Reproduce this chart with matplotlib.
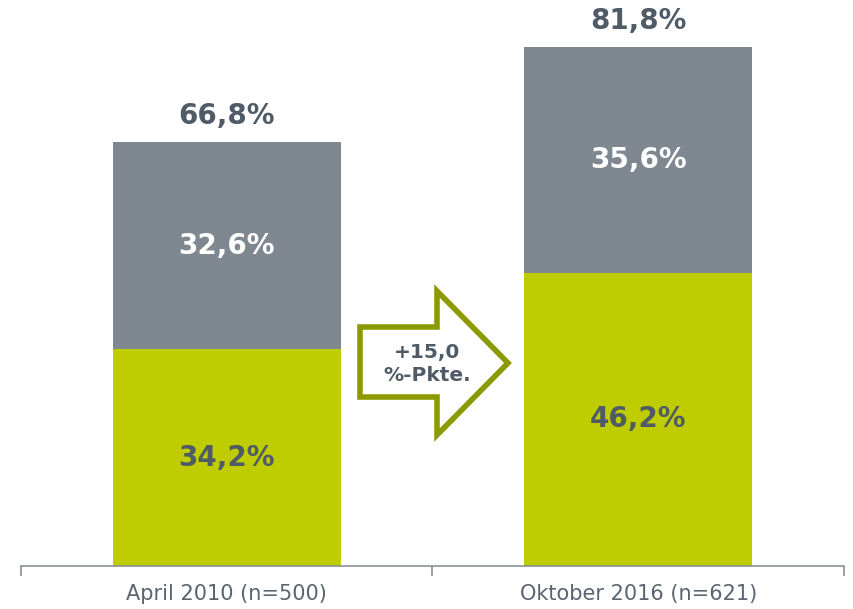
import matplotlib
matplotlib.use("Agg")
import matplotlib.pyplot as plt
from matplotlib.patches import Polygon

categories = ["April 2010 (n=500)", "Oktober 2016 (n=621)"]
bottom_vals = [34.2, 46.2]
top_vals = [32.6, 35.6]
totals = [66.8, 81.8]
bottom_labels = ["34,2%", "46,2%"]
top_labels = ["32,6%", "35,6%"]
total_labels = ["66,8%", "81,8%"]
arrow_text = "+15,0\n%-Pkte."

GREEN = "#BFCC00"
GREY = "#7F8790"
DARK = "#4F5B66"
AXIS = "#8A9096"
OLIVE = "#8C9A00"

W, H = 854, 609
fig = plt.figure(figsize=(W / 100, H / 100), dpi=100)
ax = fig.add_axes([21 / W, (H - 566) / H, (844 - 21) / W, 566 / H])

x = list(range(len(categories)))
bw = 0.553
ax.bar(x, bottom_vals, width=bw, color=GREEN, linewidth=0)
ax.bar(x, top_vals, width=bw, bottom=bottom_vals, color=GREY, linewidth=0)

for i in x:
    ax.text(i, bottom_vals[i] / 2, bottom_labels[i], ha="center", va="center",
            fontsize=20, fontweight="bold", color=DARK)
    ax.text(i, bottom_vals[i] + top_vals[i] / 2, top_labels[i], ha="center", va="center",
            fontsize=20, fontweight="bold", color="white")
    ax.text(i, totals[i] + 4.1, total_labels[i], ha="center", va="center",
            fontsize=20, fontweight="bold", color=DARK)

ax.set_xlim(-0.5, 1.5)
ax.set_ylim(0, 566 / 6.345)

# Arrow in pixel-based figure coordinates
def px(xp, yp):
    return (xp / W, 1 - yp / H)

arrow_pts = [px(360, 327), px(437, 327), px(437, 291), px(508, 363),
             px(437, 435), px(437, 397), px(360, 397)]
poly = Polygon(arrow_pts, closed=True, transform=fig.transFigure,
               facecolor="white", edgecolor=OLIVE, linewidth=4, joinstyle="miter")
fig.add_artist(poly)
fig.text(427 / W, 1 - 364 / H, arrow_text, ha="center", va="center",
         fontsize=14.5, fontweight="bold", color=DARK, linespacing=1.3)

for s in ["top", "right", "left"]:
    ax.spines[s].set_visible(False)
ax.spines["bottom"].set_color(AXIS)
ax.spines["bottom"].set_linewidth(1.2)
ax.set_yticks([])
ax.set_xticks([-0.5, 0.5, 1.5])
ax.set_xticklabels([])
ax.tick_params(axis="x", length=7, color=AXIS, width=1.2)
ax.set_xticks(x, minor=True)
ax.set_xticklabels(categories, minor=True)
ax.tick_params(axis="x", which="minor", length=0, labelsize=15, labelcolor="#5A6570", pad=13)

fig.savefig("out.png", dpi=100)
